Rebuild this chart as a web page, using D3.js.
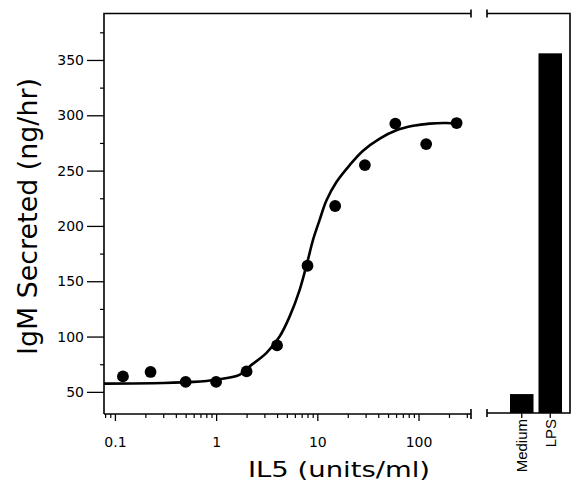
<!DOCTYPE html>
<html>
<head>
<meta charset="utf-8">
<script src="https://cdn.jsdelivr.net/npm/d3@7"></script>
<style>
  html, body { margin: 0; padding: 0; background: #fff; }
  svg { display: block; }
  text { font-family: "DejaVu Sans", sans-serif; fill: #000; }
</style>
</head>
<body>
<svg id="chart" width="573" height="489"></svg>
<script>
// ---- data ----
const doses = [0.12, 0.225, 0.5, 1, 2, 4, 8, 15, 29.5, 59, 119, 238];
const igm   = [64, 68, 59, 59, 68.5, 92, 164, 218, 255, 292.5, 274, 293];

const curveX = [0.078, 0.3, 0.6, 1, 1.7, 2.14, 3.13, 4.24, 5.32, 6.68, 8.0, 9.04, 10.5, 12.3, 15.4, 20.9, 28.3, 41.4, 60.5, 88.5, 129, 189, 240];
const curveY = [57.5, 58, 59, 61, 65.4, 73, 85, 100, 118, 142, 168, 187, 205, 223, 239.5, 255, 268, 279, 286.5, 290.5, 292.5, 293, 292.5];

const barCats = ["Medium", "LPS"];
const barVals = [48, 356];

const yMajor = [50, 100, 150, 200, 250, 300, 350];
const yMinor = [75, 125, 175, 225, 275, 325, 375];
const xMajor = [0.1, 1, 10, 100];
const xMajorLabels = ["0.1", "1", "10", "100"];
const xMinor = [0.08, 0.09, 0.2, 0.3, 0.4, 0.5, 0.6, 0.7, 0.8, 0.9,
                2, 3, 4, 5, 6, 7, 8, 9, 20, 30, 40, 50, 60, 70, 80, 90, 200, 300];

const yLabel = "IgM Secreted (ng/hr)";
const xLabel = "IL5 (units/ml)";

// ---- layout ----
const svg = d3.select("#chart");
const L = 104, R = 471, T = 13.5, B = 414;
const BL = 487, BR = 570;

const x = d3.scaleLog().domain([0.078, 330]).range([L, R]);
const y = d3.scaleLinear().domain([30, 392]).range([B, T]);
const xb = d3.scaleBand().domain(barCats).range([BL, BR])
  .paddingInner(0.175).paddingOuter(0.544).align(0.742);

const stroke = "#000";
const g = svg.append("g");

// y axis major
const yAxis = d3.axisLeft(y).tickValues(yMajor).tickSize(17).tickPadding(3).tickFormat(d3.format("d"));
const ya = g.append("g").attr("transform", `translate(${L},0)`).call(yAxis);
ya.select(".domain").remove();
ya.selectAll("line").attr("stroke", stroke).attr("stroke-width", 1.3);
ya.selectAll("text").style("font-size", "14px").attr("fill", "#000");

const yAxisMin = d3.axisLeft(y).tickValues(yMinor).tickSize(4).tickFormat("");
const yam = g.append("g").attr("transform", `translate(${L},0)`).call(yAxisMin);
yam.select(".domain").remove();
yam.selectAll("line").attr("stroke", stroke).attr("stroke-width", 1.2);

// x axis major
const xAxis = d3.axisBottom(x).tickValues(xMajor).tickSize(7).tickPadding(16)
  .tickFormat((d, i) => xMajorLabels[i]);
const xa = g.append("g").attr("transform", `translate(0,${B})`).call(xAxis);
xa.select(".domain").remove();
xa.selectAll("line").attr("stroke", stroke).attr("stroke-width", 1.3);
xa.selectAll("text").style("font-size", "14px").attr("fill", "#000");

const xAxisMin = d3.axisBottom(x).tickValues(xMinor).tickSize(4).tickFormat("");
const xam = g.append("g").attr("transform", `translate(0,${B})`).call(xAxisMin);
xam.select(".domain").remove();
xam.selectAll("line").attr("stroke", stroke).attr("stroke-width", 1.2);

// frame of main panel
const frame = g.append("g").attr("stroke", stroke).attr("fill", "none").attr("stroke-width", 1.6);
frame.append("path").attr("d", `M${L},${B} L${L},${T} L${R},${T}`);
frame.append("line").attr("x1", L).attr("x2", R).attr("y1", B).attr("y2", B);
frame.append("line").attr("x1", R).attr("x2", R).attr("y1", T - 4).attr("y2", T + 4);
frame.append("line").attr("x1", R).attr("x2", R).attr("y1", B - 5).attr("y2", B + 5);

// bar panel frame
frame.append("path").attr("d", `M${BL},${T} L${BR},${T} L${BR},${B - 1} L${BL},${B - 1}`);
frame.append("line").attr("x1", BL).attr("x2", BL).attr("y1", T - 4).attr("y2", T + 4);
frame.append("line").attr("x1", BL).attr("x2", BL).attr("y1", B - 5).attr("y2", B + 3);

// bars
g.append("g").selectAll("rect").data(barCats).join("rect")
  .attr("x", d => xb(d))
  .attr("width", xb.bandwidth())
  .attr("y", (d, i) => y(barVals[i]))
  .attr("height", (d, i) => (B - 1) - y(barVals[i]))
  .attr("fill", "#000");

// bar ticks and labels
const xbAxis = d3.axisBottom(xb).tickSize(5).tickPadding(4);
const xba = g.append("g").attr("transform", `translate(0,${B - 1})`).call(xbAxis);
xba.select(".domain").remove();
xba.selectAll("line").attr("stroke", stroke).attr("stroke-width", 1.3);
xba.selectAll("text")
  .style("font-size", "15px")
  .style("font-family", "'Liberation Sans', Arial, sans-serif")
  .attr("fill", "#000")
  .attr("text-anchor", "end")
  .attr("transform", "rotate(-90)")
  .attr("x", -6).attr("y", 0).attr("dy", "0.36em");

// fitted curve
const line = d3.line()
  .x(d => x(d[0])).y(d => y(d[1]))
  .curve(d3.curveCatmullRom.alpha(0.5));
g.append("path")
  .datum(curveX.map((v, i) => [v, curveY[i]]))
  .attr("d", line)
  .attr("fill", "none").attr("stroke", stroke).attr("stroke-width", 2.6);

// points
g.append("g").selectAll("circle").data(doses).join("circle")
  .attr("cx", d => x(d))
  .attr("cy", (d, i) => y(igm[i]))
  .attr("r", 5.9)
  .attr("fill", "#000");

// axis titles
svg.append("text")
  .attr("transform", "translate(36.5,216.5) rotate(-90)")
  .attr("text-anchor", "middle")
  .attr("textLength", 277).attr("lengthAdjust", "spacingAndGlyphs")
  .style("font-size", "27px")
  .text(yLabel);

svg.append("text")
  .attr("x", 339).attr("y", 477)
  .attr("text-anchor", "middle")
  .attr("textLength", 182).attr("lengthAdjust", "spacingAndGlyphs")
  .style("font-size", "22px")
  .text(xLabel);
</script>
</body>
</html>
